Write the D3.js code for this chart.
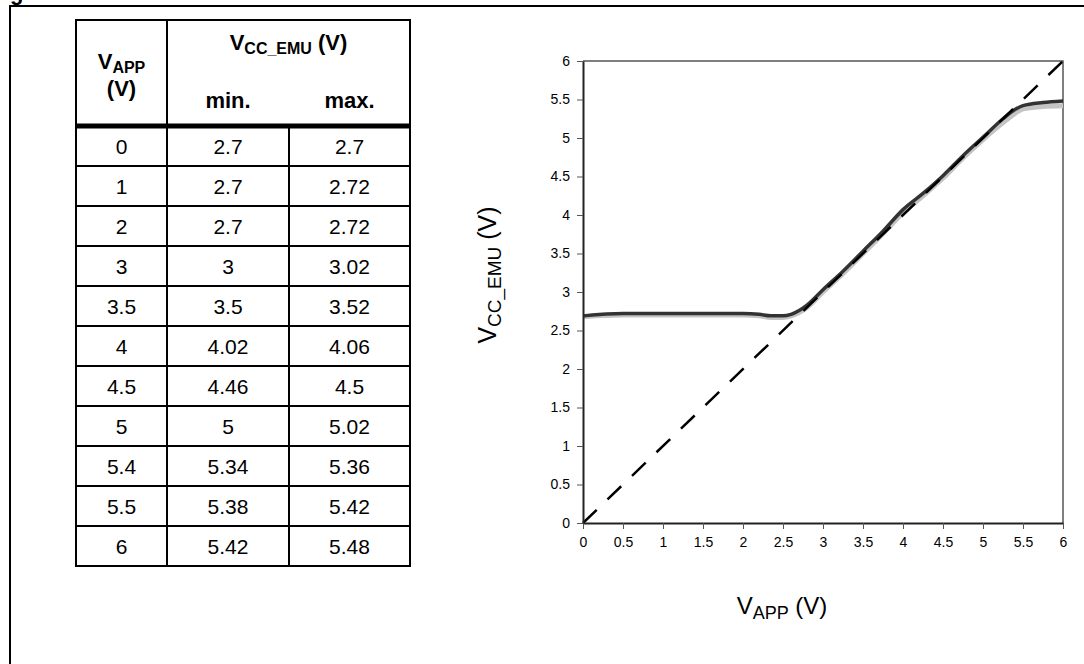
<!DOCTYPE html>
<html>
<head>
<meta charset="utf-8">
<script src="https://cdn.jsdelivr.net/npm/d3@7"></script>
<style>
  body { margin: 0; background: #fff; }
  svg { display: block; font-family: "Liberation Sans", Arial, sans-serif; }
</style>
</head>
<body>
<svg id="chart" width="1084" height="664"></svg>
<script>
// table values
var tableVapp = ['0', '1', '2', '3', '3.5', '4', '4.5', '5', '5.4', '5.5', '6'];
var tableMin = ['2.7', '2.7', '2.7', '3', '3.5', '4.02', '4.46', '5', '5.34', '5.38', '5.42'];
var tableMax = ['2.7', '2.72', '2.72', '3.02', '3.52', '4.06', '4.5', '5.02', '5.36', '5.42', '5.48'];

var vApp = [0, 0.5, 1, 1.5, 2, 2.2, 2.35, 2.5, 2.6, 2.8, 3, 3.25, 3.5, 3.75, 4, 4.25, 4.5, 4.75, 5, 5.25, 5.4, 5.5, 5.75, 6];
var vccMax = [2.69, 2.72, 2.72, 2.72, 2.72, 2.71, 2.69, 2.69, 2.71, 2.83, 3.03, 3.27, 3.53, 3.79, 4.07, 4.28, 4.51, 4.77, 5.01, 5.25, 5.37, 5.42, 5.46, 5.48];
var vccMin = [2.68, 2.7, 2.7, 2.7, 2.7, 2.69, 2.67, 2.67, 2.69, 2.8, 3.0, 3.24, 3.5, 3.76, 4.03, 4.25, 4.48, 4.74, 4.98, 5.2, 5.32, 5.38, 5.41, 5.42];
var refLine = [0, 6];

var xTicks = [0, 0.5, 1, 1.5, 2, 2.5, 3, 3.5, 4, 4.5, 5, 5.5, 6];
var yTicks = [0, 0.5, 1, 1.5, 2, 2.5, 3, 3.5, 4, 4.5, 5, 5.5, 6];

var svg = d3.select('#chart');

// page frame + cut off figure title
svg.append('text').attr('x', 10).attr('y', 0)
    .attr('font-size', 22).attr('font-weight', 'bold').text('g');
svg.append('path').attr('d', 'M10,664V6H1084')
    .attr('fill', 'none').attr('stroke', '#000').attr('stroke-width', 2);

// ---- table ----
var colX = [76, 167, 289, 410];
var tTop = 20, hBot = 126, rowH = 40;
var tBot = hBot + rowH * tableVapp.length;
var tbl = svg.append('g').attr('stroke', '#000').attr('stroke-width', 2);
tbl.append('rect').attr('x', colX[0]).attr('y', tTop)
    .attr('width', colX[3] - colX[0]).attr('height', tBot - tTop).attr('fill', 'none');
tbl.append('line').attr('x1', colX[1]).attr('x2', colX[1]).attr('y1', tTop).attr('y2', tBot);
tbl.append('line').attr('x1', colX[2]).attr('x2', colX[2]).attr('y1', hBot).attr('y2', tBot);
tbl.selectAll('.rowline').data(d3.range(1, tableVapp.length)).enter().append('line')
    .attr('x1', colX[0]).attr('x2', colX[3])
    .attr('y1', function (d) { return hBot + d * rowH; })
    .attr('y2', function (d) { return hBot + d * rowH; });
tbl.append('line').attr('x1', colX[0] - 1).attr('x2', colX[3] + 1)
    .attr('y1', hBot).attr('y2', hBot).attr('stroke-width', 5);

var head = svg.append('g').attr('font-weight', 'bold').attr('font-size', 22)
    .attr('text-anchor', 'middle');
var h1 = head.append('text').attr('x', (colX[0] + colX[1]) / 2).attr('y', 69);
h1.append('tspan').text('V');
h1.append('tspan').attr('font-size', 16).attr('dy', 4).text('APP');
head.append('text').attr('x', (colX[0] + colX[1]) / 2).attr('y', 96).text('(V)');
var h2 = head.append('text').attr('x', (colX[1] + colX[3]) / 2).attr('y', 50);
h2.append('tspan').text('V');
h2.append('tspan').attr('font-size', 16).attr('dy', 4).text('CC_EMU');
h2.append('tspan').attr('dy', -4).text(' (V)');
head.append('text').attr('x', (colX[1] + colX[2]) / 2).attr('y', 108).text('min.');
head.append('text').attr('x', (colX[2] + colX[3]) / 2).attr('y', 108).text('max.');

var cols = [tableVapp, tableMin, tableMax];
cols.forEach(function (vals, c) {
    svg.append('g').attr('font-size', 21).attr('text-anchor', 'middle')
        .selectAll('text').data(vals).enter().append('text')
        .attr('x', (colX[c] + colX[c + 1]) / 2)
        .attr('y', function (d, i) { return hBot + i * rowH + rowH / 2; })
        .attr('dy', '0.36em')
        .text(function (d) { return d; });
});

// ---- chart ----
var x = d3.scaleLinear().domain([0, 6]).range([583, 1063]);
var y = d3.scaleLinear().domain([0, 6]).range([523, 61]);

// frame top/right
svg.append('path')
    .attr('d', 'M' + x(0) + ',' + y(6) + 'H' + x(6) + 'V' + y(0))
    .attr('fill', 'none').attr('stroke', '#555').attr('stroke-width', 1.5);

var line = d3.line().curve(d3.curveMonotoneX)
    .x(function (d) { return x(d[0]); })
    .y(function (d) { return y(d[1]); });

svg.append('path').datum(vApp.map(function (v, i) { return [v, vccMin[i]]; }))
    .attr('fill', 'none').attr('stroke', '#c4c4c4').attr('stroke-width', 5)
    .attr('d', line);
svg.append('path').datum(vApp.map(function (v, i) { return [v, vccMax[i]]; }))
    .attr('fill', 'none').attr('stroke', '#333').attr('stroke-width', 3.5)
    .attr('d', line);
svg.append('path').datum(refLine.map(function (v) { return [v, v]; }))
    .attr('fill', 'none').attr('stroke', '#000').attr('stroke-width', 2.5)
    .attr('stroke-dasharray', '19,15')
    .attr('d', d3.line().x(function (d) { return x(d[0]); }).y(function (d) { return y(d[1]); }));

var fmt = function (d) { return String(d); };
var gx = svg.append('g').attr('transform', 'translate(0,' + y(0) + ')')
    .call(d3.axisBottom(x).tickValues(xTicks).tickFormat(fmt).tickSize(6).tickSizeOuter(0).tickPadding(8));
var gy = svg.append('g').attr('transform', 'translate(' + x(0) + ',0)')
    .call(d3.axisLeft(y).tickValues(yTicks).tickFormat(fmt).tickSize(6).tickSizeOuter(0).tickPadding(7));
[gx, gy].forEach(function (g) {
    g.select('.domain').attr('stroke', '#222').attr('stroke-width', 2);
    g.selectAll('.tick line').attr('stroke', '#555');
    g.selectAll('.tick text').attr('font-size', 14).attr('fill', '#000')
        .attr('font-family', '"Liberation Sans", Arial, sans-serif');
});

// axis titles
var xt = svg.append('text').attr('x', 782).attr('y', 614).attr('text-anchor', 'middle')
    .attr('font-size', 24);
xt.append('tspan').text('V');
xt.append('tspan').attr('font-size', 18).attr('dy', 5).text('APP');
xt.append('tspan').attr('dy', -5).text(' (V)');

var yt = svg.append('text').attr('transform', 'translate(496,275) rotate(-90)')
    .attr('text-anchor', 'middle').attr('font-size', 25);
yt.append('tspan').text('V');
yt.append('tspan').attr('font-size', 19).attr('dy', 5).text('CC_EMU');
yt.append('tspan').attr('dy', -5).text(' (V)');
</script>
</body>
</html>
